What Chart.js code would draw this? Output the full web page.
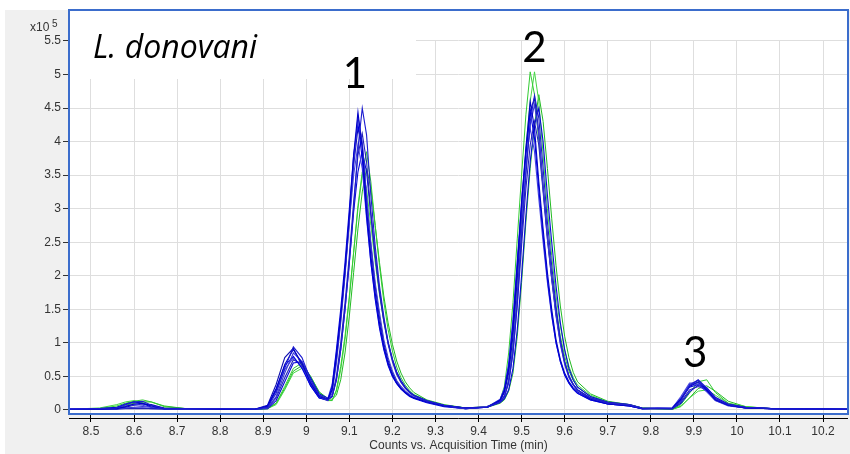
<html>
  <head>
    <meta charset="utf-8" />
    <title>L. donovani chromatogram</title>
    <style>
      body {
        margin: 0;
        padding: 0;
        background-color: #ffffff;
      }
      #wrap {
        width: 850px;
        height: 454px;
      }
    </style>
    <script src="https://cdn.jsdelivr.net/npm/chart.js"></script>
  </head>
  <body>
    <div id="wrap"><canvas id="chromChart" width="850" height="454"></canvas></div>
    <script>
      // acquisition time (min), denser around the two big peaks
      const times = [
        8.45, 8.52, 8.56, 8.58, 8.6, 8.62, 8.64, 8.67, 8.72, 8.8, 8.88, 8.91, 8.93, 8.95, 8.97, 8.99, 9.01, 9.03,
        9.05, 9.06, 9.07, 9.08, 9.09, 9.1, 9.11, 9.12, 9.13, 9.14, 9.15, 9.16, 9.17, 9.18, 9.19, 9.2, 9.21, 9.22, 9.23, 9.24, 9.25,
        9.28, 9.32, 9.37, 9.42,
        9.45, 9.46, 9.47, 9.48, 9.49, 9.5, 9.51, 9.52, 9.53, 9.54, 9.55, 9.56, 9.57, 9.58, 9.59, 9.6, 9.61, 9.62, 9.63,
        9.66, 9.7, 9.75, 9.78, 9.85, 9.87, 9.89, 9.91, 9.93, 9.95, 9.98, 10.02, 10.08, 10.26
      ];

      // counts (x10^5), one array per injection
      const blue1 = [
        0.01, 0.02, 0.03, 0.08, 0.12, 0.13, 0.07, 0.02, 0.02, 0.02, 0.01, 0.04, 0.25, 0.62, 0.94, 0.78, 0.45, 0.22,
        0.15, 0.2, 0.45, 0.9, 1.5, 2.2, 3.0, 3.9, 4.5, 4.1, 3.2, 2.45, 1.85, 1.4, 1.0, 0.75, 0.55, 0.42, 0.33, 0.26, 0.21,
        0.13, 0.07, 0.03, 0.04,
        0.12, 0.2, 0.42, 0.85, 1.6, 2.6, 3.5, 4.3, 4.69, 4.35, 3.6, 2.8, 2.15, 1.55, 1.05, 0.72, 0.5, 0.38, 0.3,
        0.18, 0.1, 0.07, 0.02, 0.02, 0.14, 0.36, 0.45, 0.33, 0.17, 0.08, 0.04, 0.02, 0.01
      ];
      const blue2 = [
        0.01, 0.01, 0.02, 0.05, 0.09, 0.1, 0.06, 0.02, 0.02, 0.01, 0.01, 0.05, 0.3, 0.68, 0.9, 0.7, 0.4, 0.2,
        0.16, 0.3, 0.8, 1.4, 2.1, 2.9, 3.8, 4.44, 3.9, 3.0, 2.3, 1.75, 1.3, 0.95, 0.7, 0.52, 0.4, 0.32, 0.26, 0.21, 0.18,
        0.12, 0.06, 0.03, 0.04,
        0.14, 0.28, 0.6, 1.2, 2.1, 3.1, 3.9, 4.6, 4.2, 3.4, 2.7, 2.05, 1.5, 1.05, 0.75, 0.55, 0.42, 0.33, 0.27,
        0.16, 0.09, 0.06, 0.02, 0.03, 0.16, 0.35, 0.42, 0.3, 0.15, 0.07, 0.03, 0.02, 0.01
      ];
      const blue3 = [
        0.02, 0.01, 0.02, 0.03, 0.04, 0.05, 0.04, 0.02, 0.01, 0.02, 0.01, 0.03, 0.2, 0.55, 0.85, 0.72, 0.42, 0.2,
        0.14, 0.25, 0.7, 1.3, 2.0, 2.8, 3.7, 4.37, 4.0, 3.2, 2.5, 1.9, 1.45, 1.05, 0.78, 0.58, 0.44, 0.35, 0.28, 0.23, 0.19,
        0.12, 0.06, 0.02, 0.05,
        0.13, 0.22, 0.45, 0.95, 1.75, 2.7, 3.6, 4.25, 4.55, 4.1, 3.3, 2.55, 1.95, 1.4, 0.98, 0.68, 0.48, 0.37, 0.29,
        0.17, 0.1, 0.07, 0.02, 0.02, 0.18, 0.37, 0.38, 0.27, 0.14, 0.07, 0.03, 0.02, 0.01
      ];
      const blue4 = [
        0.01, 0.02, 0.04, 0.09, 0.12, 0.1, 0.04, 0.02, 0.02, 0.02, 0.01, 0.06, 0.32, 0.66, 0.8, 0.62, 0.36, 0.18,
        0.15, 0.35, 0.9, 1.5, 2.2, 3.0, 3.8, 4.27, 3.75, 2.9, 2.2, 1.65, 1.22, 0.9, 0.66, 0.5, 0.39, 0.31, 0.25, 0.2, 0.17,
        0.11, 0.05, 0.02, 0.04,
        0.15, 0.3, 0.65, 1.3, 2.2, 3.1, 3.85, 4.45, 4.05, 3.3, 2.6, 1.95, 1.42, 1.0, 0.72, 0.52, 0.4, 0.31, 0.25,
        0.15, 0.09, 0.06, 0.02, 0.03, 0.17, 0.34, 0.38, 0.29, 0.15, 0.07, 0.03, 0.02, 0.01
      ];
      const blue5 = [
        0.01, 0.02, 0.01, 0.02, 0.02, 0.02, 0.02, 0.01, 0.02, 0.01, 0.01, 0.03, 0.18, 0.48, 0.75, 0.68, 0.42, 0.22,
        0.16, 0.2, 0.5, 1.0, 1.6, 2.3, 3.1, 3.8, 4.12, 3.7, 2.95, 2.3, 1.75, 1.32, 0.98, 0.72, 0.53, 0.41, 0.32, 0.26, 0.21,
        0.13, 0.07, 0.03, 0.05,
        0.12, 0.2, 0.4, 0.85, 1.55, 2.45, 3.3, 3.95, 4.3, 3.95, 3.25, 2.55, 1.95, 1.42, 1.0, 0.7, 0.5, 0.38, 0.3,
        0.18, 0.11, 0.08, 0.03, 0.02, 0.12, 0.3, 0.35, 0.3, 0.17, 0.08, 0.04, 0.02, 0.01
      ];
      const blue6 = [
        0.02, 0.01, 0.03, 0.06, 0.08, 0.07, 0.04, 0.02, 0.01, 0.02, 0.01, 0.05, 0.28, 0.6, 0.78, 0.64, 0.38, 0.19,
        0.17, 0.38, 0.85, 1.4, 2.05, 2.8, 3.5, 3.95, 3.6, 2.85, 2.2, 1.68, 1.25, 0.92, 0.68, 0.51, 0.4, 0.32, 0.26, 0.21, 0.18,
        0.12, 0.06, 0.02, 0.04,
        0.16, 0.32, 0.7, 1.35, 2.2, 3.0, 3.7, 4.2, 3.85, 3.15, 2.5, 1.9, 1.4, 1.0, 0.72, 0.52, 0.4, 0.31, 0.25,
        0.15, 0.09, 0.06, 0.02, 0.03, 0.2, 0.4, 0.4, 0.28, 0.14, 0.06, 0.03, 0.02, 0.01
      ];
      const blue7 = [
        0.01, 0.01, 0.02, 0.03, 0.03, 0.03, 0.02, 0.02, 0.02, 0.02, 0.01, 0.02, 0.14, 0.42, 0.7, 0.72, 0.48, 0.24,
        0.18, 0.2, 0.45, 0.9, 1.5, 2.2, 2.95, 3.55, 3.85, 3.55, 2.9, 2.3, 1.78, 1.35, 1.02, 0.76, 0.57, 0.44, 0.34, 0.27, 0.22,
        0.14, 0.07, 0.03, 0.04,
        0.11, 0.17, 0.3, 0.62, 1.2, 2.0, 2.9, 3.7, 4.25, 4.5, 4.0, 3.2, 2.5, 1.85, 1.3, 0.9, 0.62, 0.45, 0.34,
        0.2, 0.12, 0.08, 0.03, 0.02, 0.1, 0.27, 0.37, 0.33, 0.19, 0.09, 0.04, 0.02, 0.01
      ];
      const blue8 = [
        0.02, 0.02, 0.02, 0.04, 0.07, 0.09, 0.08, 0.03, 0.02, 0.02, 0.01, 0.07, 0.38, 0.78, 0.92, 0.66, 0.36, 0.18,
        0.14, 0.3, 0.75, 1.35, 2.05, 2.85, 3.65, 4.2, 3.95, 3.15, 2.45, 1.85, 1.38, 1.0, 0.74, 0.55, 0.42, 0.33, 0.27, 0.22, 0.18,
        0.12, 0.06, 0.02, 0.04,
        0.14, 0.26, 0.55, 1.1, 1.95, 2.9, 3.8, 4.45, 4.65, 4.15, 3.35, 2.6, 1.98, 1.45, 1.02, 0.72, 0.51, 0.38, 0.3,
        0.17, 0.1, 0.07, 0.02, 0.02, 0.15, 0.38, 0.44, 0.31, 0.15, 0.07, 0.03, 0.02, 0.01
      ];
      const green1 = [
        0.01, 0.02, 0.06, 0.1, 0.13, 0.15, 0.12, 0.05, 0.02, 0.02, 0.01, 0.02, 0.1, 0.35, 0.62, 0.7, 0.5, 0.26,
        0.15, 0.14, 0.3, 0.65, 1.1, 1.7, 2.35, 3.0, 3.5, 3.85, 3.4, 2.75, 2.15, 1.62, 1.2, 0.88, 0.64, 0.48, 0.37, 0.29, 0.23,
        0.14, 0.07, 0.03, 0.05,
        0.15, 0.35, 0.85, 1.6, 2.55, 3.5, 4.4, 5.04, 4.7, 4.0, 3.3, 2.6, 2.0, 1.5, 1.1, 0.8, 0.58, 0.44, 0.34,
        0.2, 0.11, 0.07, 0.02, 0.01, 0.08, 0.25, 0.42, 0.45, 0.26, 0.1, 0.04, 0.02, 0.01
      ];
      const green2 = [
        0.01, 0.03, 0.08, 0.12, 0.14, 0.11, 0.06, 0.03, 0.02, 0.01, 0.01, 0.02, 0.08, 0.3, 0.55, 0.62, 0.48, 0.25,
        0.14, 0.14, 0.28, 0.6, 1.05, 1.65, 2.35, 3.05, 3.55, 3.3, 2.75, 2.2, 1.72, 1.32, 1.0, 0.75, 0.56, 0.43, 0.34, 0.27, 0.22,
        0.13, 0.07, 0.03, 0.04,
        0.12, 0.2, 0.45, 1.0, 1.85, 2.9, 3.9, 4.6, 5.04, 4.6, 3.8, 3.0, 2.3, 1.7, 1.25, 0.9, 0.65, 0.48, 0.37,
        0.22, 0.12, 0.08, 0.03, 0.01, 0.06, 0.18, 0.28, 0.3, 0.22, 0.1, 0.05, 0.02, 0.01
      ];
      const green3 = [
        0.01, 0.02, 0.04, 0.07, 0.1, 0.12, 0.12, 0.06, 0.02, 0.02, 0.01, 0.02, 0.1, 0.32, 0.58, 0.66, 0.5, 0.27,
        0.17, 0.16, 0.22, 0.45, 0.85, 1.4, 2.05, 2.7, 3.25, 3.6, 3.3, 2.75, 2.2, 1.7, 1.3, 0.98, 0.73, 0.55, 0.42, 0.33, 0.26,
        0.15, 0.08, 0.03, 0.04,
        0.1, 0.15, 0.28, 0.55, 1.1, 1.9, 2.8, 3.6, 4.25, 4.7, 4.3, 3.6, 2.85, 2.15, 1.55, 1.1, 0.78, 0.56, 0.42,
        0.24, 0.13, 0.08, 0.03, 0.01, 0.05, 0.18, 0.32, 0.36, 0.28, 0.13, 0.05, 0.02, 0.01
      ];

      const blueRuns = [blue1, blue2, blue3, blue4, blue5, blue6, blue7, blue8];
      const greenRuns = [green1, green2, green3];
      const blueColors = ["#1c1cd0", "#0000c8", "#3a3ad8", "#0000e0", "#2424b8", "#4646e0", "#0808d8", "#1010b0"];
      const greenColors = ["#33cc33", "#44d844", "#22bb22"];

      const xTickValues = [8.5, 8.6, 8.7, 8.8, 8.9, 9, 9.1, 9.2, 9.3, 9.4, 9.5, 9.6, 9.7, 9.8, 9.9, 10, 10.1, 10.2];
      const xTickLabels = ["8.5", "8.6", "8.7", "8.8", "8.9", "9", "9.1", "9.2", "9.3", "9.4", "9.5", "9.6", "9.7", "9.8", "9.9", "10", "10.1", "10.2"];
      const yTickValues = [0, 0.5, 1, 1.5, 2, 2.5, 3, 3.5, 4, 4.5, 5, 5.5];
      const yTickLabels = ["0", "0.5", "1", "1.5", "2", "2.5", "3", "3.5", "4", "4.5", "5", "5.5"];

      const peakLabels = ["1", "2", "3"];
      const peakTimes = [9.113, 9.53, 9.903];
      const peakLabelHeights = [4.8, 5.19, 0.64];

      const toPoints = (arr) => times.map((t, i) => ({ x: t, y: arr[i] }));

      const datasets = [];
      blueRuns.forEach((run, i) => {
        datasets.push({
          data: toPoints(run),
          borderColor: blueColors[i],
          borderWidth: 1.1,
          pointRadius: 0,
          tension: 0,
          order: 0,
        });
      });
      greenRuns.forEach((run, i) => {
        datasets.push({
          data: toPoints(run),
          borderColor: greenColors[i],
          borderWidth: 1,
          pointRadius: 0,
          tension: 0,
          order: 1,
        });
      });

      const framePlugin = {
        id: "frame",
        beforeDraw(chart) {
          const ctx = chart.ctx;
          const a = chart.chartArea;
          ctx.save();
          ctx.fillStyle = "#ffffff";
          ctx.fillRect(0, 0, chart.width, chart.height);
          ctx.fillStyle = "#f0f0f0";
          ctx.fillRect(5, a.top, chart.width - 5, chart.height - a.top);
          ctx.fillStyle = "#ffffff";
          ctx.fillRect(a.left, a.top, a.right - a.left, a.bottom - a.top);
          ctx.restore();
        },
        beforeDatasetsDraw(chart) {
          // no grid above 5.5 and behind the sample name
          const ctx = chart.ctx;
          const a = chart.chartArea;
          const top55 = chart.scales.y.getPixelForValue(5.5);
          ctx.save();
          ctx.fillStyle = "#ffffff";
          ctx.fillRect(a.left + 1, a.top + 1, a.right - a.left - 2, top55 - a.top - 2);
          ctx.fillRect(a.left + 1, a.top + 1, 415 - a.left, 78 - a.top);
          ctx.restore();
        },
        afterDatasetsDraw(chart) {
          const ctx = chart.ctx;
          const a = chart.chartArea;
          ctx.save();
          ctx.strokeStyle = "#000000";
          ctx.lineWidth = 1;
          ctx.beginPath();
          ctx.moveTo(a.left, a.bottom + 4.5);
          ctx.lineTo(a.right, a.bottom + 4.5);
          ctx.stroke();
          ctx.strokeStyle = "#3b6dcc";
          ctx.lineWidth = 2;
          ctx.strokeRect(a.left, a.top, a.right - a.left, a.bottom - a.top);
          ctx.restore();
        },
        afterDraw(chart) {
          const ctx = chart.ctx;
          const a = chart.chartArea;
          const xs = chart.scales.x;
          const ys = chart.scales.y;
          ctx.save();
          ctx.fillStyle = "#333333";
          ctx.textBaseline = "alphabetic";
          ctx.textAlign = "left";
          ctx.font = "12px 'Liberation Sans', Arial, sans-serif";
          ctx.fillText("x10", 30, 31);
          ctx.font = "10px 'Liberation Sans', Arial, sans-serif";
          ctx.fillText("5", 52, 27);

          ctx.fillStyle = "#000000";
          ctx.font = "italic 32px 'Open Sans', Lato, sans-serif";
          ctx.fillText("L. donovani", a.left + 24, 58);

          ctx.textAlign = "center";
          ctx.font = "42px Lato, 'Open Sans', sans-serif";
          peakLabels.forEach((lab, i) => {
            ctx.fillText(lab, xs.getPixelForValue(peakTimes[i]), ys.getPixelForValue(peakLabelHeights[i]));
          });
          ctx.restore();
        },
      };

      const ctx = document.getElementById("chromChart").getContext("2d");
      const chromChart = new Chart(ctx, {
        type: "line",
        data: { datasets: datasets },
        plugins: [framePlugin],
        options: {
          responsive: false,
          animation: false,
          layout: { padding: { left: 0, top: 10, right: 2, bottom: 0 } },
          plugins: {
            legend: { display: false },
            tooltip: { enabled: false },
          },
          scales: {
            x: {
              type: "linear",
              min: 8.449,
              max: 10.258,
              afterBuildTicks: (scale) => {
                scale.ticks = xTickValues.map((v) => ({ value: v }));
              },
              afterFit: (scale) => {
                scale.height = 40;
              },
              border: { display: false },
              grid: {
                color: "#dedede",
                tickColor: "#000000",
                tickLength: 8,
              },
              ticks: {
                autoSkip: false,
                maxRotation: 0,
                padding: 2,
                color: "#333333",
                font: { family: "'Liberation Sans', Arial, sans-serif", size: 12 },
                callback: (v, i) => xTickLabels[i],
              },
              title: {
                display: true,
                text: "Counts vs. Acquisition Time (min)",
                color: "#333333",
                font: { family: "'Liberation Sans', Arial, sans-serif", size: 12 },
                padding: { top: 0, bottom: 1 },
              },
            },
            y: {
              type: "linear",
              min: -0.06,
              max: 5.962,
              afterBuildTicks: (scale) => {
                scale.ticks = yTickValues.map((v) => ({ value: v }));
              },
              afterFit: (scale) => {
                scale.width = 69;
              },
              border: { display: false },
              grid: {
                color: "#dedede",
                tickColor: "#333333",
                tickLength: 6,
              },
              ticks: {
                padding: 2,
                color: "#333333",
                font: { family: "'Liberation Sans', Arial, sans-serif", size: 12 },
                callback: (v, i) => yTickLabels[i],
              },
            },
          },
        },
      });
    </script>
  </body>
</html>
